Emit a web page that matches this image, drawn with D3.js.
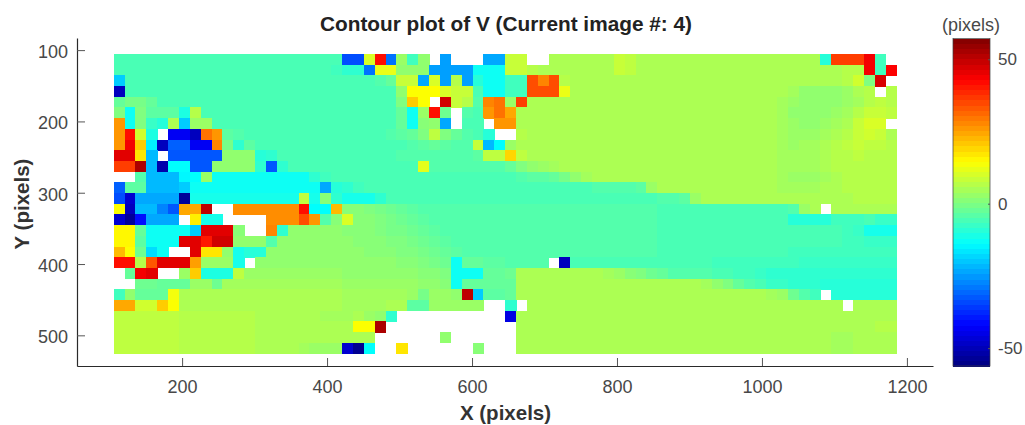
<!DOCTYPE html>
<html>
<head>
<meta charset="utf-8">
<script src="https://cdn.jsdelivr.net/npm/d3@7"></script>
<style>
  html, body { margin: 0; background: #fff; }
  text { font-family: "Liberation Sans", Arial, sans-serif; }
</style>
</head>
<body>
<svg id="chart" width="1025" height="425"></svg>
<script>
const n = null // no correlation, drawn white

// V displacement, one array per image row, 72 cells at 15 px spacing
const row105 = [-6,-6,-6,-6,-6,-6,-6,-6,-6,-6, -6,-6,-6,-6,-6,-6,-6,-6,-6,-6, -6,-34,-34,10,42,-30,3,-7,2,n, -25,n,n,n,-24,-24,8,8,n,n, 5,5,5,5,5,5,8,7,5,5, 5,5,5,5,5,5,5,5,5,5, 5,5,5,5,5,-10,36,36,36,44, -7,n]
const row120 = [-6,-6,-6,-6,-6,-6,-6,-6,-6,-6, -6,-6,-6,-6,-6,-6,-6,-6,-6,-6, -7,-9,-9,-30,12,12,2,2,2,-25, -25,-25,-25,-13,-13,-13,8,8,6,5, 5,5,5,5,5,5,8,7,5,5, 5,5,5,5,5,5,5,5,5,5, 5,5,5,5,5,5,5,6,6,44, -7,43]
const row135 = [-20,-6,-6,-6,-6,-6,-6,-6,-6,-6, -6,-6,-6,-6,-6,-6,-6,-6,-6,-6, -6,-6,-6,-6,-5,-3,8,8,-24,10, -25,6,-25,-10,-13,-13,-7,-7,34,28, 34,6,5,5,5,5,5,5,5,5, 5,5,5,5,5,5,5,5,5,5, 5,5,5,5,5,5,5,6,9,0, 47,n]
const row150 = [-50,-6,-6,-6,-6,-6,-6,-6,-6,-6, -6,-6,-6,-6,-6,-6,-6,-6,-6,-6, -6,-6,-6,-6,-6,-6,2,14,14,14, 10,8,8,-6,-13,-13,-7,-7,34,34, 34,12,5,5,5,5,5,5,5,5, 5,5,5,5,5,5,5,5,5,5, 5,5,4,2,2,2,2,3,5,6, n,6]
const row165 = [-3,-1,-1,-3,-6,-6,-6,-6,-6,-6, -6,-6,-6,-6,-6,-6,-6,-6,-6,-6, -6,-6,-6,-6,-6,-6,0,20,14,n, 48,8,6,-5,28,30,3,36,5,5, 5,5,5,5,5,5,5,5,5,5, 5,5,5,5,5,5,5,5,5,5, 5,4,3,2,2,2,2,3,4,6, 7,6]
const row180 = [0,-13,0,-4,-4,-4,-11,6,-6,-6, -6,-6,-6,-6,-6,-6,-6,-6,-6,-6, -6,-6,-6,-6,-6,-6,-3,-13,3,42, -2,n,-5,-6,26,30,24,5,5,5, 5,5,5,5,5,5,5,5,5,5, 5,5,5,5,5,5,5,5,5,5, 5,4,2,2,2,2,3,4,6,8, 8,7]
const row195 = [26,-13,0,-8,-10,5,-20,3,3,-6, -6,-6,-6,-6,-6,-6,-6,-6,-6,-6, -6,-6,-6,-6,-6,-6,-3,-13,1,2, -24,n,-6,-6,n,26,26,5,5,5, 5,5,5,5,5,5,5,5,5,5, 5,5,5,5,5,5,5,5,5,5, 5,4,3,2,2,3,4,5,8,10, 10,n]
const row210 = [26,42,9,-11,n,-44,-44,-50,30,26, -4,-5,-6,-6,-6,-6,-6,-6,-6,-6, -6,-6,-6,-6,-6,-5,-4,-3,0,7, 0,-3,-5,-6,-10,n,n,6,5,5, 5,5,5,5,5,5,5,5,5,5, 5,5,5,5,5,5,5,5,5,5, 5,4,3,3,3,4,5,6,8,9, 8,5]
const row225 = [26,44,20,-16,-50,-32,-32,-44,-44,28, -1,-9,-4,-6,-6,-6,-6,-6,-6,-6, -6,-6,-6,-6,-6,-6,-6,-5,-4,-3, -4,-5,-5,8,-22,-14,3,5,5,5, 5,5,5,5,5,5,5,5,5,5, 5,5,5,5,5,5,5,5,5,5, 5,4,3,4,4,5,6,7,8,7, 7,6]
const row240 = [46,46,17,-22,n,-33,-33,-33,-33,-33, 2,2,2,-10,-9,-6,-6,-6,-6,-6, -6,-6,-6,-6,-6,-6,-5,-5,-5,-5, -5,-5,-5,-4,7,7,19,7,5,5, 5,5,5,5,5,5,5,5,5,5, 5,5,5,5,5,5,5,5,5,5, 5,4,4,4,4,5,6,6,7,6, 6,6]
const row255 = [36,36,52,-22,-52,-14,-14,-33,-33,2, 2,2,2,-9,-33,-9,-6,-6,-6,-6, -6,-6,-6,-6,-6,-6,-6,-6,11,-5, -5,-5,-5,-5,-5,-5,-3,0,2,3, 4,5,5,5,5,5,5,5,5,5, 5,5,5,5,5,5,5,5,5,5, 5,4,4,4,4,5,6,6,6,6, 6,6]
const row270 = [n,n,-5,-22,-22,-22,-15,-14,3,-13, -13,-13,-13,-13,-13,-13,-13,-13,-9,-7, -6,-6,-6,-6,-6,-6,-6,-6,-6,-6, -6,-6,-6,-6,-6,-6,-6,-5,-4,-4, -3,-1,2,4,5,5,5,5,5,5, 5,5,5,5,5,5,5,5,5,5, 5,4,3,3,3,4,5,6,6,6, 6,6]
const row285 = [-32,-4,-4,-22,-22,-22,-20,-13,-13,-13, -13,-13,-13,-13,-13,-13,-13,-13,-13,-24, -10,-9,-7,-6,-6,-6,-6,-6,-6,-6, -6,-6,-6,-6,-6,-6,-6,-6,-6,-6, -6,-6,-6,-6,-5,-5,-5,-5,-4,3, 5,5,5,5,5,5,5,5,5,5, 5,4,4,4,4,5,5,6,6,6, 6,6]
const row300 = [-34,-48,-24,-24,-24,-24,-54,-12,-12,-12, -12,-12,-12,-12,-12,-12,-12,7,-12,1, -9,-12,-12,-12,-9,-6,-6,-6,-6,-6, -6,-6,-6,-6,-6,-6,-6,-6,-6,-6, -6,-6,-6,-6,-6,-6,-6,-6,-6,-6, -5,-5,-4,3,5,5,5,5,5,5, 5,5,5,5,5,5,5,5,6,6, 6,6]
const row315 = [14,-50,-22,-22,-28,-33,24,24,50,n, n,27,27,27,27,27,27,42,-14,-14, 22,1,1,0,-1,-2,-3,-4,-5,-5, -5,-5,-5,-5,-5,-5,-5,-5,-5,-5, -5,-5,-5,-5,-5,-5,-5,-5,-5,-5, -6,-6,-6,-6,-6,-6,-6,-6,-6,-6, -6,-6,-5,3,5,n,5,5,5,5, 5,5]
const row330 = [-48,-54,-42,-24,-24,-24,n,16,-12,-12, n,n,n,n,27,27,27,34,26,-5, 1,10,1,1,0,-1,-2,-3,-4,-5, -5,-5,-5,-5,-5,-5,-5,-5,-5,-5, -5,-5,-5,-5,-5,-5,-5,-5,-5,-5, -6,-6,-6,-6,-6,-6,-6,-6,-6,-6, -6,-6,-10,-10,-10,-10,-7,-7,-7,-6, -8,-8]
const row345 = [15,15,-3,-13,-13,-13,-13,-20,46,46, 46,1,n,n,28,-9,2,2,2,2, 2,1,1,1,0,-1,-1,-2,-3,-4, -5,-5,-5,-5,-5,-5,-5,-5,-5,-5, -5,-5,-5,-5,-5,-5,-5,-5,-5,-5, -6,-6,-6,-6,-6,-6,-6,-6,-6,-6, -6,-6,-6,-6,-6,-6,-6,-7,-8,-12, -12,-12]
const row360 = [15,15,-4,-13,-13,-13,46,46,40,48, 48,2,2,2,-5,2,2,2,2,2, 2,2,1,1,1,0,0,-1,-2,-3, -4,-5,-5,-5,-5,-5,-5,-5,-5,-5, -5,-5,-5,-5,-5,-5,-5,-5,-5,-5, -6,-6,-6,-6,-6,-6,-6,-6,-6,-6, -6,-6,-6,-6,-6,-6,-6,-7,-7,-8, -8,-8]
const row375 = [22,14,-2,-18,-13,n,n,46,17,17, 2,-12,-10,-10,2,2,2,2,2,2, 2,2,2,1,1,1,0,0,-1,-2, -3,-4,-5,-5,-5,-5,-5,-5,-5,-5, -5,-5,-5,-5,-5,-5,-5,-5,-5,-5, -6,-6,-6,-6,-6,-6,-6,-6,-6,-6, -6,-6,-7,-7,-7,-7,-7,-7,-7,-7, -7,-7]
const row390 = [42,42,6,33,46,46,46,25,3,3, 3,-12,n,2,2,2,2,2,2,2, 2,2,2,2,2,2,1,1,0,-1, -2,-13,-3,-3,-4,-4,-5,-5,-5,-5, n,-50,-6,-6,-6,-6,-6,-6,-6,-6, -6,-6,-6,-6,-6,-7,-7,-7,-7,-7, -7,-7,-7,-8,-8,-8,-8,-8,-8,-8, -8,-8]
const row405 = [n,-3,44,46,n,n,3,20,-11,-11, -11,7,3,3,3,3,3,3,3,3, 3,2,2,2,2,2,2,2,1,1, 0,-13,-13,-13,-3,-3,-2,5,5,5, 5,5,5,5,5,4,3,1,0,-2, -3,-5,-5,-5,-5,-6,-6,-7,-7,-8, -9,-9,-9,-9,-9,-9,-9,-9,-9,-9, -9,-9]
const row420 = [n,n,-2,-2,-3,-3,-3,3,3,-2, 4,4,4,4,4,4,4,4,4,4, 4,3,3,3,3,3,3,3,2,2, 1,-13,-3,-3,-3,-3,-3,5,5,5, 5,5,5,5,5,5,5,5,5,5, 5,5,5,5,4,2,0,-3,-5,-6, -8,-8,-9,-9,-9,-10,-10,-10,-10,-10, -10,-10]
const row435 = [-7,2,-3,-3,-3,13,5,5,5,5, 5,5,5,5,5,5,5,5,5,5, 5,4,4,4,4,4,4,3,-1,3, 3,2,50,-20,-4,-4,-3,5,5,5, 5,5,5,5,5,5,5,5,5,5, 5,5,5,5,5,5,5,5,5,5, 4,3,-2,-5,-7,n,-10,-10,-10,-10, -10,-10]
const row450 = [24,24,9,9,20,14,5,5,5,5, 5,5,5,5,5,5,5,5,5,5, 5,4,4,4,4,5,5,-4,-4,3, 3,3,3,3,n,n,-9,n,5,5, 5,5,5,5,5,5,5,5,5,5, 5,5,5,5,5,5,5,5,5,5, 5,5,5,5,5,5,5,n,5,5, 5,5]
const row465 = [7,7,7,7,7,7,6,6,6,6, 6,6,6,5,5,5,5,5,5,4, 4,4,5,3,2,-9,n,n,n,n, n,n,n,n,n,n,-46,5,5,5, 5,5,5,5,5,5,5,5,5,5, 5,5,5,5,5,5,5,5,5,5, 5,5,5,5,5,5,5,5,5,5, 5,5]
const row480 = [7,7,7,7,7,7,6,6,6,6, 6,6,6,5,5,5,5,5,5,5, 5,5,14,14,52,n,n,n,n,n, n,n,n,n,n,n,n,5,5,5, 5,5,5,5,5,5,5,5,5,5, 5,5,5,5,5,5,5,5,5,5, 5,5,5,5,5,5,5,5,5,5, 6,6]
const row495 = [7,7,7,7,7,7,6,6,6,6, 6,6,6,5,5,5,5,5,5,5, 5,5,5,5,n,n,n,n,n,n, 2,n,n,n,n,n,n,5,5,5, 5,5,5,5,5,5,5,5,5,5, 5,5,5,5,5,5,5,5,5,5, 5,5,5,5,5,5,4,4,5,5, 5,5]
const row510 = [7,7,7,7,7,7,6,6,6,6, 6,6,6,5,5,5,5,4,3,3, 3,-48,-55,-14,n,n,17,n,n,n, n,n,n,1,n,n,n,5,5,5, 5,5,5,5,5,5,5,5,5,5, 5,5,5,5,5,5,5,5,5,5, 5,5,5,5,5,5,4,4,5,5, 5,5]

const rows = [row105, row120, row135, row150, row165, row180, row195, row210, row225, row240,
  row255, row270, row285, row300, row315, row330, row345, row360, row375, row390,
  row405, row420, row435, row450, row465, row480, row495, row510]

const xTicks = [200, 400, 600, 800, 1000, 1200]
const yTicks = [100, 200, 300, 400, 500]
const barTicks = [50, 0, -50]

const cellSize = 15
const gridStart = 105

const x = d3.scaleLinear().domain([55, 1236]).range([77, 933])
const y = d3.scaleLinear().domain([83, 543]).range([38, 366])
const barY = d3.scaleLinear().domain([-56.2, 57.2]).range([366, 38.5])

function jet(t) {
  const ramp = (v) => Math.max(0, Math.min(1, v))
  const r = ramp(1.5 - Math.abs(4 * t - 3))
  const g = ramp(1.5 - Math.abs(4 * t - 2))
  const b = ramp(1.5 - Math.abs(4 * t - 1))
  return d3.rgb(r * 255, g * 255, b * 255).formatHex()
}
const color = d3.scaleSequential(jet).domain([-57, 57])

const svg = d3.select('#chart')

// the source is a soft jpeg, a small blur gets the cell edges closer
svg.append('defs').append('filter')
  .attr('id', 'soft')
  .attr('x', '-2%').attr('y', '-2%').attr('width', '104%').attr('height', '104%')
  .append('feGaussianBlur')
  .attr('stdDeviation', 0.5)

const cells = rows.flatMap((row, r) => row.map((v, c) => ({r, c, v}))).filter((d) => d.v !== null)

svg.append('g')
  .attr('filter', 'url(#soft)')
  .selectAll('rect')
  .data(cells)
  .join('rect')
  .attr('shape-rendering', 'crispEdges')
  .attr('x', (d) => x(gridStart + d.c * cellSize) + 0.5)
  .attr('y', (d) => y(gridStart + d.r * cellSize) + 0.3)
  .attr('width', x(cellSize) - x(0) + 0.5)
  .attr('height', y(cellSize) - y(0) + 0.5)
  .attr('fill', (d) => color(d.v))

function styleAxis(g) {
  g.selectAll('path').attr('stroke', '#2a2a2a').attr('stroke-width', 1.2)
  g.selectAll('line').attr('stroke', '#555')
  g.selectAll('text').attr('fill', '#484848').attr('font-size', 18)
}

svg.append('g')
  .attr('transform', `translate(0,${y.range()[1]})`)
  .call(d3.axisBottom(x).tickValues(xTicks).tickSizeInner(-8).tickSizeOuter(0).tickPadding(14).tickFormat(String))
  .call(styleAxis)

svg.append('g')
  .attr('transform', `translate(${x.range()[0]},0)`)
  .call(d3.axisLeft(y).tickValues(yTicks).tickSizeInner(-8).tickSizeOuter(0).tickPadding(9).tickFormat(String))
  .call(styleAxis)
  .call((g) => g.selectAll('text').attr('dy', '0.42em'))

// colorbar, 64 levels like the matlab jet map
const levels = d3.range(64)
const barLevel = d3.scaleLinear().domain([0, 64]).range(barY.domain())
svg.append('g')
  .attr('shape-rendering', 'crispEdges')
  .selectAll('rect')
  .data(levels)
  .join('rect')
  .attr('x', 953)
  .attr('width', 37)
  .attr('y', (d) => barY(barLevel(d + 1)))
  .attr('height', (d) => barY(barLevel(d)) - barY(barLevel(d + 1)) + 0.5)
  .attr('fill', (d) => jet((d + 0.5) / 64))

svg.append('rect')
  .attr('x', 953).attr('y', 38.5).attr('width', 37).attr('height', 327.5)
  .attr('fill', 'none').attr('stroke', '#3c3c3c').attr('stroke-width', 0.7)

svg.append('g')
  .attr('transform', 'translate(990,0)')
  .call(d3.axisRight(barY).tickValues(barTicks).tickSizeInner(-2).tickSizeOuter(0).tickPadding(8).tickFormat(String))
  .call(styleAxis)
  .call((g) => g.select('.domain').remove())
  .call((g) => g.selectAll('text').attr('font-size', 17))

svg.append('text')
  .attr('x', 971).attr('y', 31)
  .attr('text-anchor', 'middle')
  .attr('font-size', 18).attr('fill', '#484848')
  .text('(pixels)')

svg.append('text')
  .attr('x', 506).attr('y', 31)
  .attr('text-anchor', 'middle')
  .attr('font-size', 20.8).attr('font-weight', 'bold').attr('fill', '#222')
  .text('Contour plot of V (Current image #: 4)')

svg.append('text')
  .attr('x', 505.5).attr('y', 420)
  .attr('text-anchor', 'middle')
  .attr('font-size', 20.5).attr('font-weight', 'bold').attr('fill', '#333')
  .text('X (pixels)')

svg.append('text')
  .attr('transform', 'translate(29,204) rotate(-90)')
  .attr('text-anchor', 'middle')
  .attr('font-size', 20.5).attr('font-weight', 'bold').attr('fill', '#333')
  .text('Y (pixels)')
</script>
</body>
</html>
